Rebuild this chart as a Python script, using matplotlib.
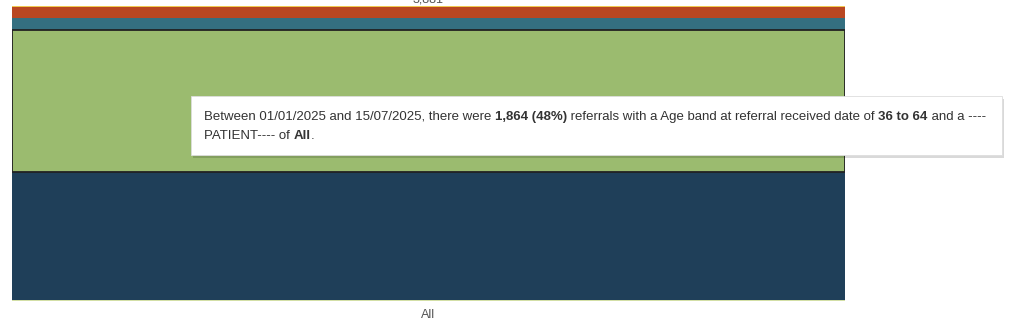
import matplotlib
matplotlib.use("Agg")
import matplotlib.pyplot as plt
from matplotlib.patches import FancyBboxPatch

plt.rcParams['font.family'] = ['Liberation Sans', 'DejaVu Sans']

categories = ["All"]
age_bands = ["Unknown", "18 to 35", "36 to 64", "65 to 79", "80 to 89", "90+"]
values = [12, 1688, 1864, 165, 135, 17]
colors = ["#d3dfa6", "#1f3f59", "#9bbb6f", "#346f80", "#b94722", "#f0c850"]
highlight_band = "36 to 64"
total_label = "3,881"

tooltip_line1 = [("Between 01/01/2025 and 15/07/2025, there were ", "normal"),
                 ("1,864 (48%)", "bold"),
                 (" referrals with a Age band at referral received date of ", "normal"),
                 ("36 to 64", "bold"),
                 (" and a ----", "normal")]
tooltip_line2 = [("PATIENT---- of ", "normal"), ("All", "bold"), (".", "normal")]

W, H = 1024, 334
fig = plt.figure(figsize=(W / 100, H / 100), dpi=100)
ax = fig.add_axes([12 / W, (H - 301) / H, (845 - 12) / W, (301 - 6) / H])

total = sum(values)
bottom = 0
for band, v, c in zip(age_bands, values, colors):
    if band == highlight_band:
        ax.bar(0, v, bottom=bottom, width=1.0, color=c, edgecolor="#222222",
               linewidth=1.3, zorder=3)
    else:
        ax.bar(0, v, bottom=bottom, width=1.0, color=c, edgecolor="none", zorder=2)
    bottom += v

ax.set_xlim(-0.5, 0.5)
ax.set_ylim(0, total)
for s in ax.spines.values():
    s.set_visible(False)
ax.set_yticks([])
ax.set_xticks([0])
ax.set_xticklabels(categories, fontsize=9, color="#555555")
ax.tick_params(axis="x", length=0, pad=6)

ax.annotate(total_label, xy=(0, total), xytext=(0, 2.2), textcoords="offset points",
            ha="center", va="baseline", fontsize=9, color="#555555", annotation_clip=False)

# tooltip
x0, y0, x1, y1 = 191, 96, 1002, 155
shadow = FancyBboxPatch((x0 / W + 2 / W, (H - y1 - 3) / H), (x1 - x0) / W, (y1 - y0) / H,
                        boxstyle="square,pad=0", transform=fig.transFigure,
                        facecolor="#00000026", edgecolor="none", zorder=9)
fig.patches.append(shadow)
box = FancyBboxPatch((x0 / W, (H - y1) / H), (x1 - x0) / W, (y1 - y0) / H,
                     boxstyle="square,pad=0", transform=fig.transFigure,
                     facecolor="white", edgecolor="#dddddd", linewidth=0.6, zorder=10)
fig.patches.append(box)

fig.canvas.draw()
renderer = fig.canvas.get_renderer()


def draw_line(pieces, x_px, y_px, size):
    x = x_px
    for txt, weight in pieces:
        t = fig.text(x / W, (H - y_px) / H, txt, fontsize=size, fontweight=weight,
                     color="#333333", ha="left", va="baseline", zorder=11)
        bb = t.get_window_extent(renderer=renderer)
        x += bb.width


draw_line(tooltip_line1, 204, 120, 9.55)
draw_line(tooltip_line2, 204, 139, 9.55)

fig.savefig("out.png", dpi=100)
